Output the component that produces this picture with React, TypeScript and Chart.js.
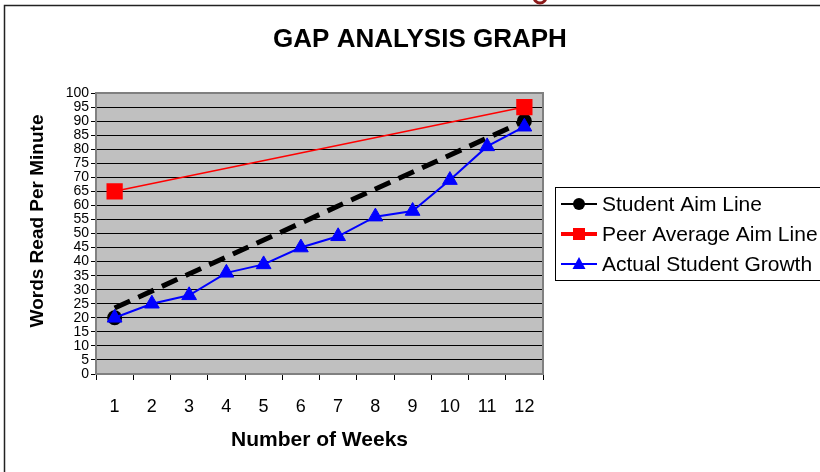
import React, { useEffect, useRef } from "react";
import { Chart, registerables } from "chart.js";

Chart.register(...registerables);

// ---- data ----
const weeks = ["1", "2", "3", "4", "5", "6", "7", "8", "9", "10", "11", "12"];
const studentAim = [20, null, null, null, null, null, null, null, null, null, null, 90];
const studentAimDashed = [23.5, null, null, null, null, null, null, null, null, null, null, 90];
const peerAverageAim = [65, null, null, null, null, null, null, null, null, null, null, 95];
const actualGrowth = [20, 25, 28, 36, 39, 45, 49, 56, 58, 69, 81, 88];
const yMin = 0;
const yMax = 100;
const yStep = 5;
const chartTitle = "GAP ANALYSIS GRAPH";
const xTitle = "Number of Weeks";
const yTitle = "Words Read Per Minute";
const legendLabels = ["Student Aim Line", "Peer Average Aim Line", "Actual Student Growth"];

const FONT = '"Liberation Sans", Arial, Helvetica, sans-serif';

const decor = {
  id: "decor",
  beforeDraw(chart: any) {
    const { ctx, chartArea: a, width, height } = chart;
    ctx.save();
    ctx.fillStyle = "#ffffff";
    ctx.fillRect(0, 0, width, height);
    ctx.fillStyle = "#C0C0C0";
    ctx.fillRect(a.left, a.top, a.right - a.left, a.bottom - a.top);
    ctx.restore();
  },
  beforeDatasetsDraw(chart: any) {
    const { ctx, chartArea: a } = chart;
    ctx.save();
    ctx.strokeStyle = "#808080";
    ctx.lineWidth = 2;
    ctx.strokeRect(a.left, a.top, a.right - a.left, a.bottom - a.top);
    ctx.restore();
  },
  afterDraw(chart: any) {
    const { ctx, chartArea: a } = chart;
    ctx.save();
    // outer frame
    ctx.strokeStyle = "#222";
    ctx.lineWidth = 1.5;
    ctx.strokeRect(4.5, 5.5, 900, 600);
    // fragment of slide decoration at top
    ctx.strokeStyle = "#8B1A1A";
    ctx.lineWidth = 3;
    ctx.beginPath();
    ctx.arc(540, -3, 6, 0, Math.PI);
    ctx.stroke();

    ctx.fillStyle = "#000";
    ctx.textAlign = "center";
    ctx.textBaseline = "middle";
    // main title
    ctx.font = `bold 26px ${FONT}`;
    ctx.fillText(chartTitle, 420, 40);
    // x title
    ctx.font = `bold 21px ${FONT}`;
    ctx.fillText(xTitle, (a.left + a.right) / 2, 440);
    // y title
    ctx.save();
    ctx.translate(38, 221);
    ctx.rotate(-Math.PI / 2);
    ctx.font = `bold 19px ${FONT}`;
    ctx.fillText(yTitle, 0, 0);
    ctx.restore();

    // legend
    const lx = 555, ly = 187, lh = 93;
    ctx.strokeStyle = "#000";
    ctx.lineWidth = 1;
    ctx.fillStyle = "#fff";
    ctx.fillRect(lx + 0.5, ly + 0.5, 300, lh);
    ctx.strokeRect(lx + 0.5, ly + 0.5, 300, lh);
    const rows = [204, 234, 264];
    const colors = ["#000000", "#FF0000", "#0000FF"];
    const widths = [2, 4, 2];
    rows.forEach((ry, i) => {
      ctx.strokeStyle = colors[i];
      ctx.fillStyle = colors[i];
      ctx.lineWidth = widths[i];
      ctx.beginPath();
      ctx.moveTo(561, ry);
      ctx.lineTo(597, ry);
      ctx.stroke();
      const cx = 579;
      ctx.beginPath();
      if (i === 0) {
        ctx.arc(cx, ry, 6, 0, Math.PI * 2);
        ctx.fill();
      } else if (i === 1) {
        ctx.fillRect(cx - 6, ry - 6, 12, 12);
      } else {
        ctx.moveTo(cx, ry - 7);
        ctx.lineTo(cx + 6.5, ry + 5);
        ctx.lineTo(cx - 6.5, ry + 5);
        ctx.closePath();
        ctx.fill();
      }
      ctx.fillStyle = "#000";
      ctx.textAlign = "left";
      ctx.font = `21px ${FONT}`;
      ctx.fillText(legendLabels[i], 602, ry + 1);
    });
    ctx.restore();
  },
};

export default function App() {
  const ref = useRef<HTMLCanvasElement>(null);
  useEffect(() => {
    if (!ref.current) return;
    const chart = new Chart(ref.current, {
      type: "line",
      data: {
        labels: weeks,
        datasets: [
          {
            label: legendLabels[2],
            data: actualGrowth,
            borderColor: "#0000FF",
            backgroundColor: "#0000FF",
            borderWidth: 2,
            pointStyle: "triangle",
            pointRadius: 8.5,
            pointBorderWidth: 1,
            order: 0,
          },
          {
            label: legendLabels[1],
            data: peerAverageAim,
            borderColor: "#FF0000",
            backgroundColor: "#FF0000",
            borderWidth: 1.5,
            pointStyle: "rect",
            pointRadius: 11.5,
            pointBorderWidth: 0,
            spanGaps: true,
            order: 1,
          },
          {
            label: legendLabels[0],
            data: studentAim,
            borderColor: "#000000",
            backgroundColor: "#000000",
            showLine: false,
            pointStyle: "circle",
            pointRadius: 7.5,
            pointBorderWidth: 0,
            order: 2,
          },
          {
            label: legendLabels[0] + " (aim)",
            data: studentAimDashed,
            borderColor: "#000000",
            borderWidth: 5,
            borderDash: [17, 9],
            borderCapStyle: "butt",
            pointRadius: 0,
            spanGaps: true,
            order: 3,
          },
        ],
      } as any,
      options: {
        responsive: false,
        animation: false,
        devicePixelRatio: 1,
        layout: { padding: { top: 93, right: 277, left: 0, bottom: 0 } },
        plugins: {
          legend: { display: false },
          title: { display: false },
          tooltip: { enabled: false },
        },
        scales: {
          x: {
            type: "category",
            offset: true,
            grid: {
              offset: true,
              drawOnChartArea: false,
              drawTicks: true,
              tickLength: 6,
              color: "#000",
              tickColor: "#000",
            },
            border: { color: "#808080", width: 2 },
            ticks: {
              color: "#000",
              font: { family: FONT, size: 18 },
              padding: 16,
              maxRotation: 0,
              autoSkip: false,
            },
            afterFit: (s: any) => {
              s.height = 98;
            },
          },
          y: {
            min: yMin,
            max: yMax,
            ticks: {
              stepSize: yStep,
              color: "#000",
              font: { family: FONT, size: 14, lineHeight: 1 },
              padding: 2,
              autoSkip: false,
            },
            grid: { color: "#000", lineWidth: 1, tickLength: 5, tickColor: "#000" },
            border: { color: "#808080", width: 2 },
            afterFit: (s: any) => {
              s.width = 96;
            },
          },
        },
      } as any,
      plugins: [decor],
    });
    return () => chart.destroy();
  }, []);
  return (
    <div style={{ position: "absolute", left: 0, top: 0, width: 820, height: 472 }}>
      <canvas ref={ref} width={820} height={472} />
    </div>
  );
}
